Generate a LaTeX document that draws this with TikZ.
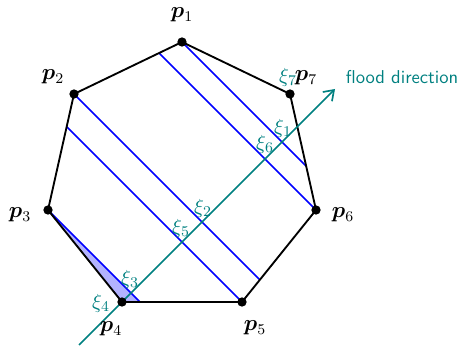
\documentclass[tikz,border=0pt]{standalone}
\usepackage{amsmath,bm}
\usetikzlibrary{arrows.meta}
\begin{document}
\begin{tikzpicture}[x=0.5376pt,y=-0.5376pt,
  edge/.style={black,line width=1pt},
  sweep/.style={blue,line width=0.9pt},
  flood/.style={teal,line width=0.9pt},
  vdot/.style={circle,fill=black,inner sep=0pt,minimum size=5pt},
  plabel/.style={inner sep=0pt,font=\fontsize{11.5}{13}\selectfont},
  xilabel/.style={teal,inner sep=0pt,font=\fontsize{11}{13}\selectfont}]
\useasboundingbox (0,0) rectangle (464,346);
% vertices
\coordinate (p1) at (182,42);
\coordinate (p2) at (74,94);
\coordinate (p3) at (48,210);
\coordinate (p4) at (122,302);
\coordinate (p5) at (242,302);
\coordinate (p6) at (316,210);
\coordinate (p7) at (290,94);
% sweep line ends
\coordinate (e1) at (306.2,166.2);
\coordinate (e6) at (159.05,53.05);
\coordinate (e2) at (259.8,279.8);
\coordinate (e5) at (66.68,126.68);
\coordinate (e3) at (140,302);
% shaded region
\fill[blue!30] (p3) -- (p4) -- (e3) -- cycle;
% sweep lines
\draw[sweep] (p1) -- (e1);
\draw[sweep] (p6) -- (e6);
\draw[sweep] (p2) -- (e2);
\draw[sweep] (p5) -- (e5);
\draw[sweep] (p3) -- (e3);
% polygon
\draw[edge,line join=round] (p1) -- (p2) -- (p3) -- (p4) -- (p5) -- (p6) -- (p7) -- cycle;
% flood direction
\coordinate (fs) at (79,345);
\coordinate (fe) at (335,89);
\draw[flood,-{Straight Barb[length=5pt,width=7pt]}] (fs) -- (fe);
\node[teal,font=\sffamily,inner sep=0pt] (fd) at (402,77) {flood direction};
% vertex dots
\foreach \i in {1,...,7} \node[vdot] (d\i) at (p\i) {};
% vertex labels
\node[plabel] (l1) at (182,15) {$\bm{p}_1$};
\node[plabel] (l2) at (53,77) {$\bm{p}_2$};
\node[plabel] (l3) at (20,215) {$\bm{p}_3$};
\node[plabel] (l4) at (111,329) {$\bm{p}_4$};
\node[plabel] (l5) at (255,328) {$\bm{p}_5$};
\node[plabel] (l6) at (343,215) {$\bm{p}_6$};
\node[plabel] (l7) at (306,78) {$\bm{p}_7$};
% xi labels
\node[xilabel] (x1) at (283,128) {$\xi_1$};
\node[xilabel] (x6) at (265,144) {$\xi_6$};
\node[xilabel] (x2) at (203,208) {$\xi_2$};
\node[xilabel] (x5) at (181,228) {$\xi_5$};
\node[xilabel] (x3) at (130,279) {$\xi_3$};
\node[xilabel] (x4) at (101,303) {$\xi_4$};
\node[xilabel] (x7) at (288,77) {$\xi_7$};
\end{tikzpicture}
\end{document}
